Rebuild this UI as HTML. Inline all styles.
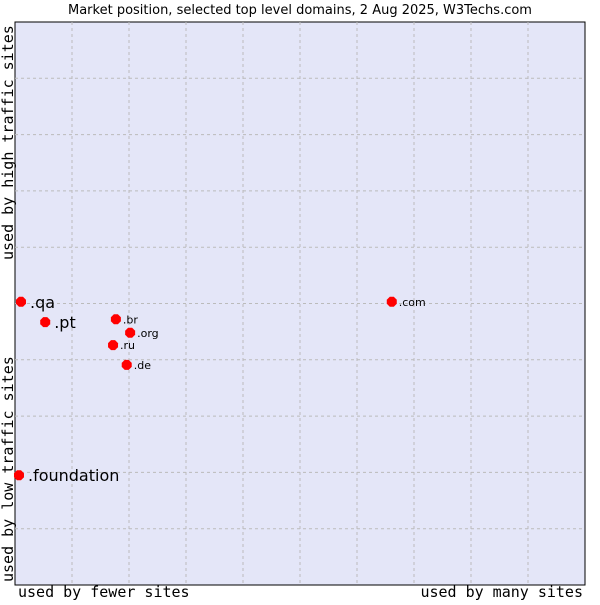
<!DOCTYPE html>
<html><head><meta charset="utf-8"><style>
body{margin:0;background:#fff;}
svg text{font-family:"DejaVu Sans","Liberation Sans",sans-serif;}
.mono{font-family:"DejaVu Sans Mono","Liberation Mono",monospace !important;font-size:15px;}
</style></head><body>
<svg id="chart" width="600" height="600" xmlns="http://www.w3.org/2000/svg">
<text x="300" y="14" text-anchor="middle" font-size="13">Market position, selected top level domains, 2 Aug 2025, W3Techs.com</text>
<rect x="15" y="22" width="570" height="563" fill="#e4e6f8" stroke="#000"/>
<g id="grid"></g>
<g id="points"></g>
<text class="mono" x="18" y="597">used by fewer sites</text>
<text class="mono" x="583" y="597" text-anchor="end">used by many sites</text>
<text class="mono" transform="translate(13,260) rotate(-90)">used by high traffic sites</text>
<text class="mono" transform="translate(13,582) rotate(-90)">used by low traffic sites</text>
</svg>
<script>
const labels=[".qa",".pt",".br",".org",".ru",".de",".com",".foundation"];
const xValues=[1.05,5.3,17.7,20.2,17.2,19.6,66.1,0.7];
const yValues=[50.3,46.7,47.2,44.8,42.6,39.1,50.3,19.5];
const bigLabel=[true,true,false,false,false,false,false,true];
const L=15,T=22,W=570,H=563;
const sx=v=>L+v/100*W, sy=v=>T+H-v/100*H;
const NS="http://www.w3.org/2000/svg";
const grid=document.getElementById('grid');
for(let i=1;i<10;i++){
  const v=document.createElementNS(NS,'line');
  v.setAttribute('x1',sx(i*10));v.setAttribute('x2',sx(i*10));v.setAttribute('y1',T);v.setAttribute('y2',T+H);
  v.setAttribute('stroke','#bbb');v.setAttribute('stroke-dasharray','3,3');
  
  
  grid.appendChild(v);
  const h=document.createElementNS(NS,'line');
  h.setAttribute('y1',sy(i*10));h.setAttribute('y2',sy(i*10));h.setAttribute('x1',L);h.setAttribute('x2',L+W);
  h.setAttribute('stroke','#bbb');h.setAttribute('stroke-dasharray','3,3');
  
  
  grid.appendChild(h);
}
const pts=document.getElementById('points');
labels.forEach((lab,i)=>{
  const x=sx(xValues[i]),y=sy(yValues[i]);
  const d=document.createElementNS(NS,'polygon');
  d.setAttribute('points',`${x-2},${y-5} ${x+2},${y-5} ${x+5},${y-2} ${x+5},${y+2} ${x+2},${y+5} ${x-2},${y+5} ${x-5},${y+2} ${x-5},${y-2}`);
  d.setAttribute('fill','#f00');
  
  
  pts.appendChild(d);
  const t=document.createElementNS(NS,'text');
  t.setAttribute('x',x+(bigLabel[i]?9:7));
  t.setAttribute('y',y+(bigLabel[i]?6:4));
  t.setAttribute('font-size',bigLabel[i]?16:11);
  t.textContent=lab;
  
  
  pts.appendChild(t);
});
</script>
</body></html>
